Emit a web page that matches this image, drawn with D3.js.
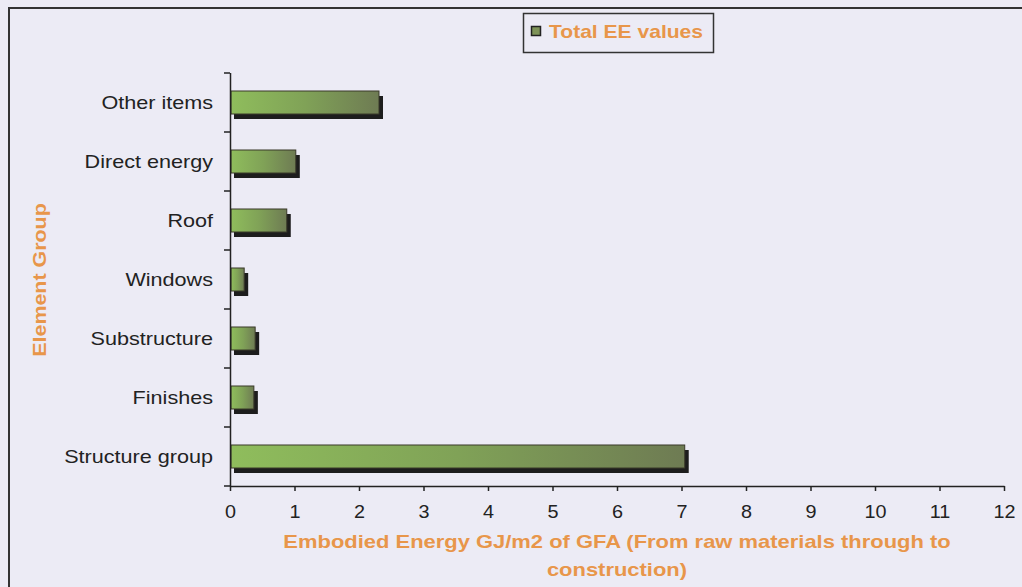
<!DOCTYPE html>
<html><head><meta charset="utf-8">
<script src="https://cdn.jsdelivr.net/npm/d3@7"></script>
<style>body{margin:0;background:#ecebf5;}svg{display:block;}</style>
</head><body>
<svg id="c" width="1022" height="587"></svg>
<script>
const categories = ["Other items","Direct energy","Roof","Windows","Substructure","Finishes","Structure group"];
const values = [2.31, 1.02, 0.88, 0.22, 0.39, 0.37, 7.05];
const xTicks = [0,1,2,3,4,5,6,7,8,9,10,11,12];
const seriesName = "Total EE values";
const xTitle = ["Embodied Energy GJ/m2 of GFA (From raw materials through to","construction)"];
const yTitle = "Element Group";

const svg = d3.select("#c");
const W = 1022, H = 587;
const orange = "#e8964a";
const font = "'Liberation Sans', Arial, sans-serif";
const SX = 1.2;
svg.append("rect").attr("width",W).attr("height",H).attr("fill","#ecebf5");
svg.append("path").attr("d","M9,600 V8 H1030").attr("fill","none").attr("stroke","#333").attr("stroke-width",2);

const m = {left:230, right:1004, top:73, bottom:486};
const x = d3.scaleLinear().domain([0,12]).range([m.left, m.right]);
const y = d3.scaleBand().domain(categories).range([m.top, m.bottom]).paddingInner(0.61).paddingOuter(0.305);

const defs = svg.append("defs");
const g = defs.append("linearGradient").attr("id","grad").attr("x1","0").attr("x2","1").attr("y1","0").attr("y2","0");
g.append("stop").attr("offset","0%").attr("stop-color","#8fbd5c");
g.append("stop").attr("offset","50%").attr("stop-color","#80a257");
g.append("stop").attr("offset","100%").attr("stop-color","#6e7b53");

const bars = svg.append("g");
bars.selectAll("rect.sh").data(categories).join("rect").attr("class","sh")
  .attr("x", x(0)+4).attr("y", d=>y(d)+5)
  .attr("width", (d,i)=>x(values[i])-x(0)).attr("height", y.bandwidth())
  .attr("fill","#1d1d1d");
bars.selectAll("rect.b").data(categories).join("rect").attr("class","b")
  .attr("x", x(0)+1).attr("y", d=>y(d))
  .attr("width", (d,i)=>x(values[i])-x(0)-1).attr("height", y.bandwidth())
  .attr("fill","url(#grad)").attr("stroke","#3a3a2a").attr("stroke-width",1);

// y axis
svg.append("line").attr("x1",m.left+0.5).attr("x2",m.left+0.5).attr("y1",m.top).attr("y2",m.bottom).attr("stroke","#222").attr("stroke-width",1.5);
const step = (m.bottom-m.top)/categories.length;
d3.range(categories.length+1).forEach(i=>{
  const yy = m.top + i*step;
  svg.append("line").attr("x1",m.left-6).attr("x2",m.left).attr("y1",yy).attr("y2",yy).attr("stroke","#222").attr("stroke-width",1.5);
});
svg.append("g").selectAll("text").data(categories).join("text")
  .attr("transform",d=>`translate(213,${y(d)+y.bandwidth()/2}) scale(${SX},1)`).attr("dy","0.35em")
  .attr("text-anchor","end").attr("font-family",font).attr("font-size",18).attr("fill","#222")
  .text(d=>d);

// x axis
const xa = svg.append("g").attr("transform",`translate(0,${m.bottom})`)
  .call(d3.axisBottom(x).tickValues(xTicks).tickSize(5).tickSizeOuter(0).tickPadding(14));
xa.select(".domain").attr("stroke","#222").attr("stroke-width",1.5);
xa.selectAll(".tick line").attr("stroke","#222").attr("stroke-width",1.5);
xa.selectAll(".tick text").attr("font-family",font).attr("font-size",18).attr("fill","#222")
  .attr("transform",`scale(1.1,1)`);

// x title
svg.append("g").selectAll("text").data(xTitle).join("text")
  .attr("transform",(d,i)=>`translate(617,${548+i*28}) scale(1.22,1)`).attr("text-anchor","middle")
  .attr("font-family",font).attr("font-size",18).attr("font-weight","bold").attr("fill",orange)
  .text(d=>d);
// y title
svg.append("text").attr("transform","translate(46,280) rotate(-90) scale(1.19,1)").attr("text-anchor","middle")
  .attr("font-family",font).attr("font-size",18).attr("font-weight","bold").attr("fill",orange).text(yTitle);

// legend
const lg = svg.append("g");
lg.append("rect").attr("x",523.5).attr("y",13.5).attr("width",190).attr("height",39).attr("fill","none").attr("stroke","#333").attr("stroke-width",1.5);
lg.append("rect").attr("x",531.5).attr("y",26.5).attr("width",9).attr("height",9).attr("fill","#7e9358").attr("stroke","#222").attr("stroke-width",1.5);
lg.append("text").attr("transform","translate(549,38) scale(1.17,1)").attr("font-family",font).attr("font-size",18).attr("font-weight","bold").attr("fill",orange).text(seriesName);
</script>
</body></html>
